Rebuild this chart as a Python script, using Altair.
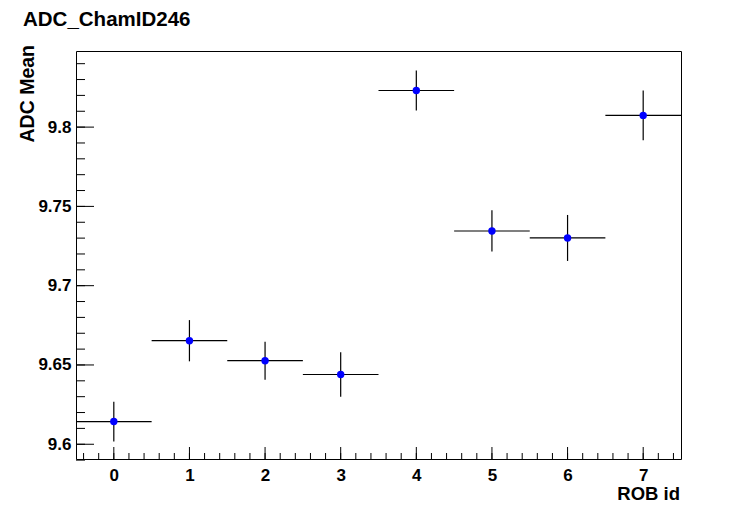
import altair as alt
import pandas as pd

title_text = "ADC_ChamID246"
x_title = "ROB id"
y_title = "ADC Mean"

rob_id = [0, 1, 2, 3, 4, 5, 6, 7]
adc_mean = [9.6143, 9.6653, 9.6527, 9.6440, 9.8231, 9.7345, 9.7301, 9.8074]
adc_err = [0.0125, 0.0130, 0.0120, 0.0140, 0.0126, 0.0130, 0.0145, 0.0157]
x_half_width = [0.5] * 8

y_major = [9.6, 9.65, 9.7, 9.75, 9.8]
y_minor = [round(9.59 + 0.01 * i, 2) for i in range(26)]
x_major = [0, 1, 2, 3, 4, 5, 6, 7]
x_minor = [round(-0.4 + 0.2 * i, 1) for i in range(40) if -0.5 < -0.4 + 0.2 * i < 7.5]

X_DOMAIN = [-0.5, 7.5]
Y_DOMAIN = [9.5907, 9.848]
FONT = "Liberation Sans"
W, H = 605, 408

df = pd.DataFrame({
    "x": rob_id,
    "y": adc_mean,
    "xlo": [a - b for a, b in zip(rob_id, x_half_width)],
    "xhi": [a + b for a, b in zip(rob_id, x_half_width)],
    "ylo": [a - b for a, b in zip(adc_mean, adc_err)],
    "yhi": [a + b for a, b in zip(adc_mean, adc_err)],
})

xs = alt.Scale(domain=X_DOMAIN, nice=False, zero=False)
ys = alt.Scale(domain=Y_DOMAIN, nice=False, zero=False)

base = alt.Chart(df)

points_layer = base.mark_point(filled=True, shape="circle", size=55, color="#0000ff", opacity=1).encode(
    x=alt.X("x:Q", scale=xs, axis=alt.Axis(values=x_major, format="d", title=None, tickSize=0,
                                            labelPadding=8, domain=False, grid=False,
                                            labelFont=FONT, labelFontSize=17, labelFontWeight="bold",
                                            labelColor="black")),
    y=alt.Y("y:Q", scale=ys, axis=alt.Axis(values=y_major, format=".2~f", title=None, tickSize=0,
                                            labelPadding=5, domain=False, grid=False,
                                            labelFont=FONT, labelFontSize=17, labelFontWeight="bold",
                                            labelColor="black")),
)

hbar = base.mark_rule(color="black", strokeWidth=1.2).encode(
    x=alt.X("xlo:Q", scale=xs), x2="xhi:Q", y=alt.Y("y:Q", scale=ys))
vbar = base.mark_rule(color="black", strokeWidth=1.2).encode(
    x=alt.X("x:Q", scale=xs), y=alt.Y("ylo:Q", scale=ys), y2="yhi:Q")

ytick_major = alt.Chart(pd.DataFrame({"v": y_major})).mark_rule(color="black").encode(
    y=alt.Y("v:Q", scale=ys), x=alt.value(0), x2=alt.value(18))
ytick_minor = alt.Chart(pd.DataFrame({"v": y_minor})).mark_rule(color="black").encode(
    y=alt.Y("v:Q", scale=ys), x=alt.value(0), x2=alt.value(9))
xtick_major = alt.Chart(pd.DataFrame({"v": x_major})).mark_rule(color="black").encode(
    x=alt.X("v:Q", scale=xs), y=alt.value(H), y2=alt.value(H - 12))
xtick_minor = alt.Chart(pd.DataFrame({"v": x_minor})).mark_rule(color="black").encode(
    x=alt.X("v:Q", scale=xs), y=alt.value(H), y2=alt.value(H - 6))

title_layer = alt.Chart(pd.DataFrame({"t": [title_text]})).mark_text(
    font=FONT, fontSize=20.5, fontWeight="bold", align="left", baseline="alphabetic", color="black"
).encode(text="t:N", x=alt.value(-53), y=alt.value(-25))

ytitle_layer = alt.Chart(pd.DataFrame({"t": [y_title]})).mark_text(
    font=FONT, fontSize=19.5, fontWeight="bold", align="right", baseline="alphabetic", angle=270, color="black"
).encode(text="t:N", x=alt.value(-42.5), y=alt.value(-6))

xtitle_layer = alt.Chart(pd.DataFrame({"t": [x_title]})).mark_text(
    font=FONT, fontSize=18.5, fontWeight="bold", align="right", baseline="alphabetic", color="black"
).encode(text="t:N", x=alt.value(604), y=alt.value(449))

chart = alt.layer(
    ytick_minor, ytick_major, xtick_minor, xtick_major,
    hbar, vbar, points_layer,
    title_layer, ytitle_layer, xtitle_layer,
).properties(
    width=W, height=H,
    autosize=alt.AutoSizeParams(type="none"),
    padding={"left": 68, "top": 43, "right": 67, "bottom": 44},
    background="white",
).configure_view(stroke="black", strokeWidth=1, fill="white")

chart.save("out.html", embed_options={"renderer": "svg", "actions": False})
